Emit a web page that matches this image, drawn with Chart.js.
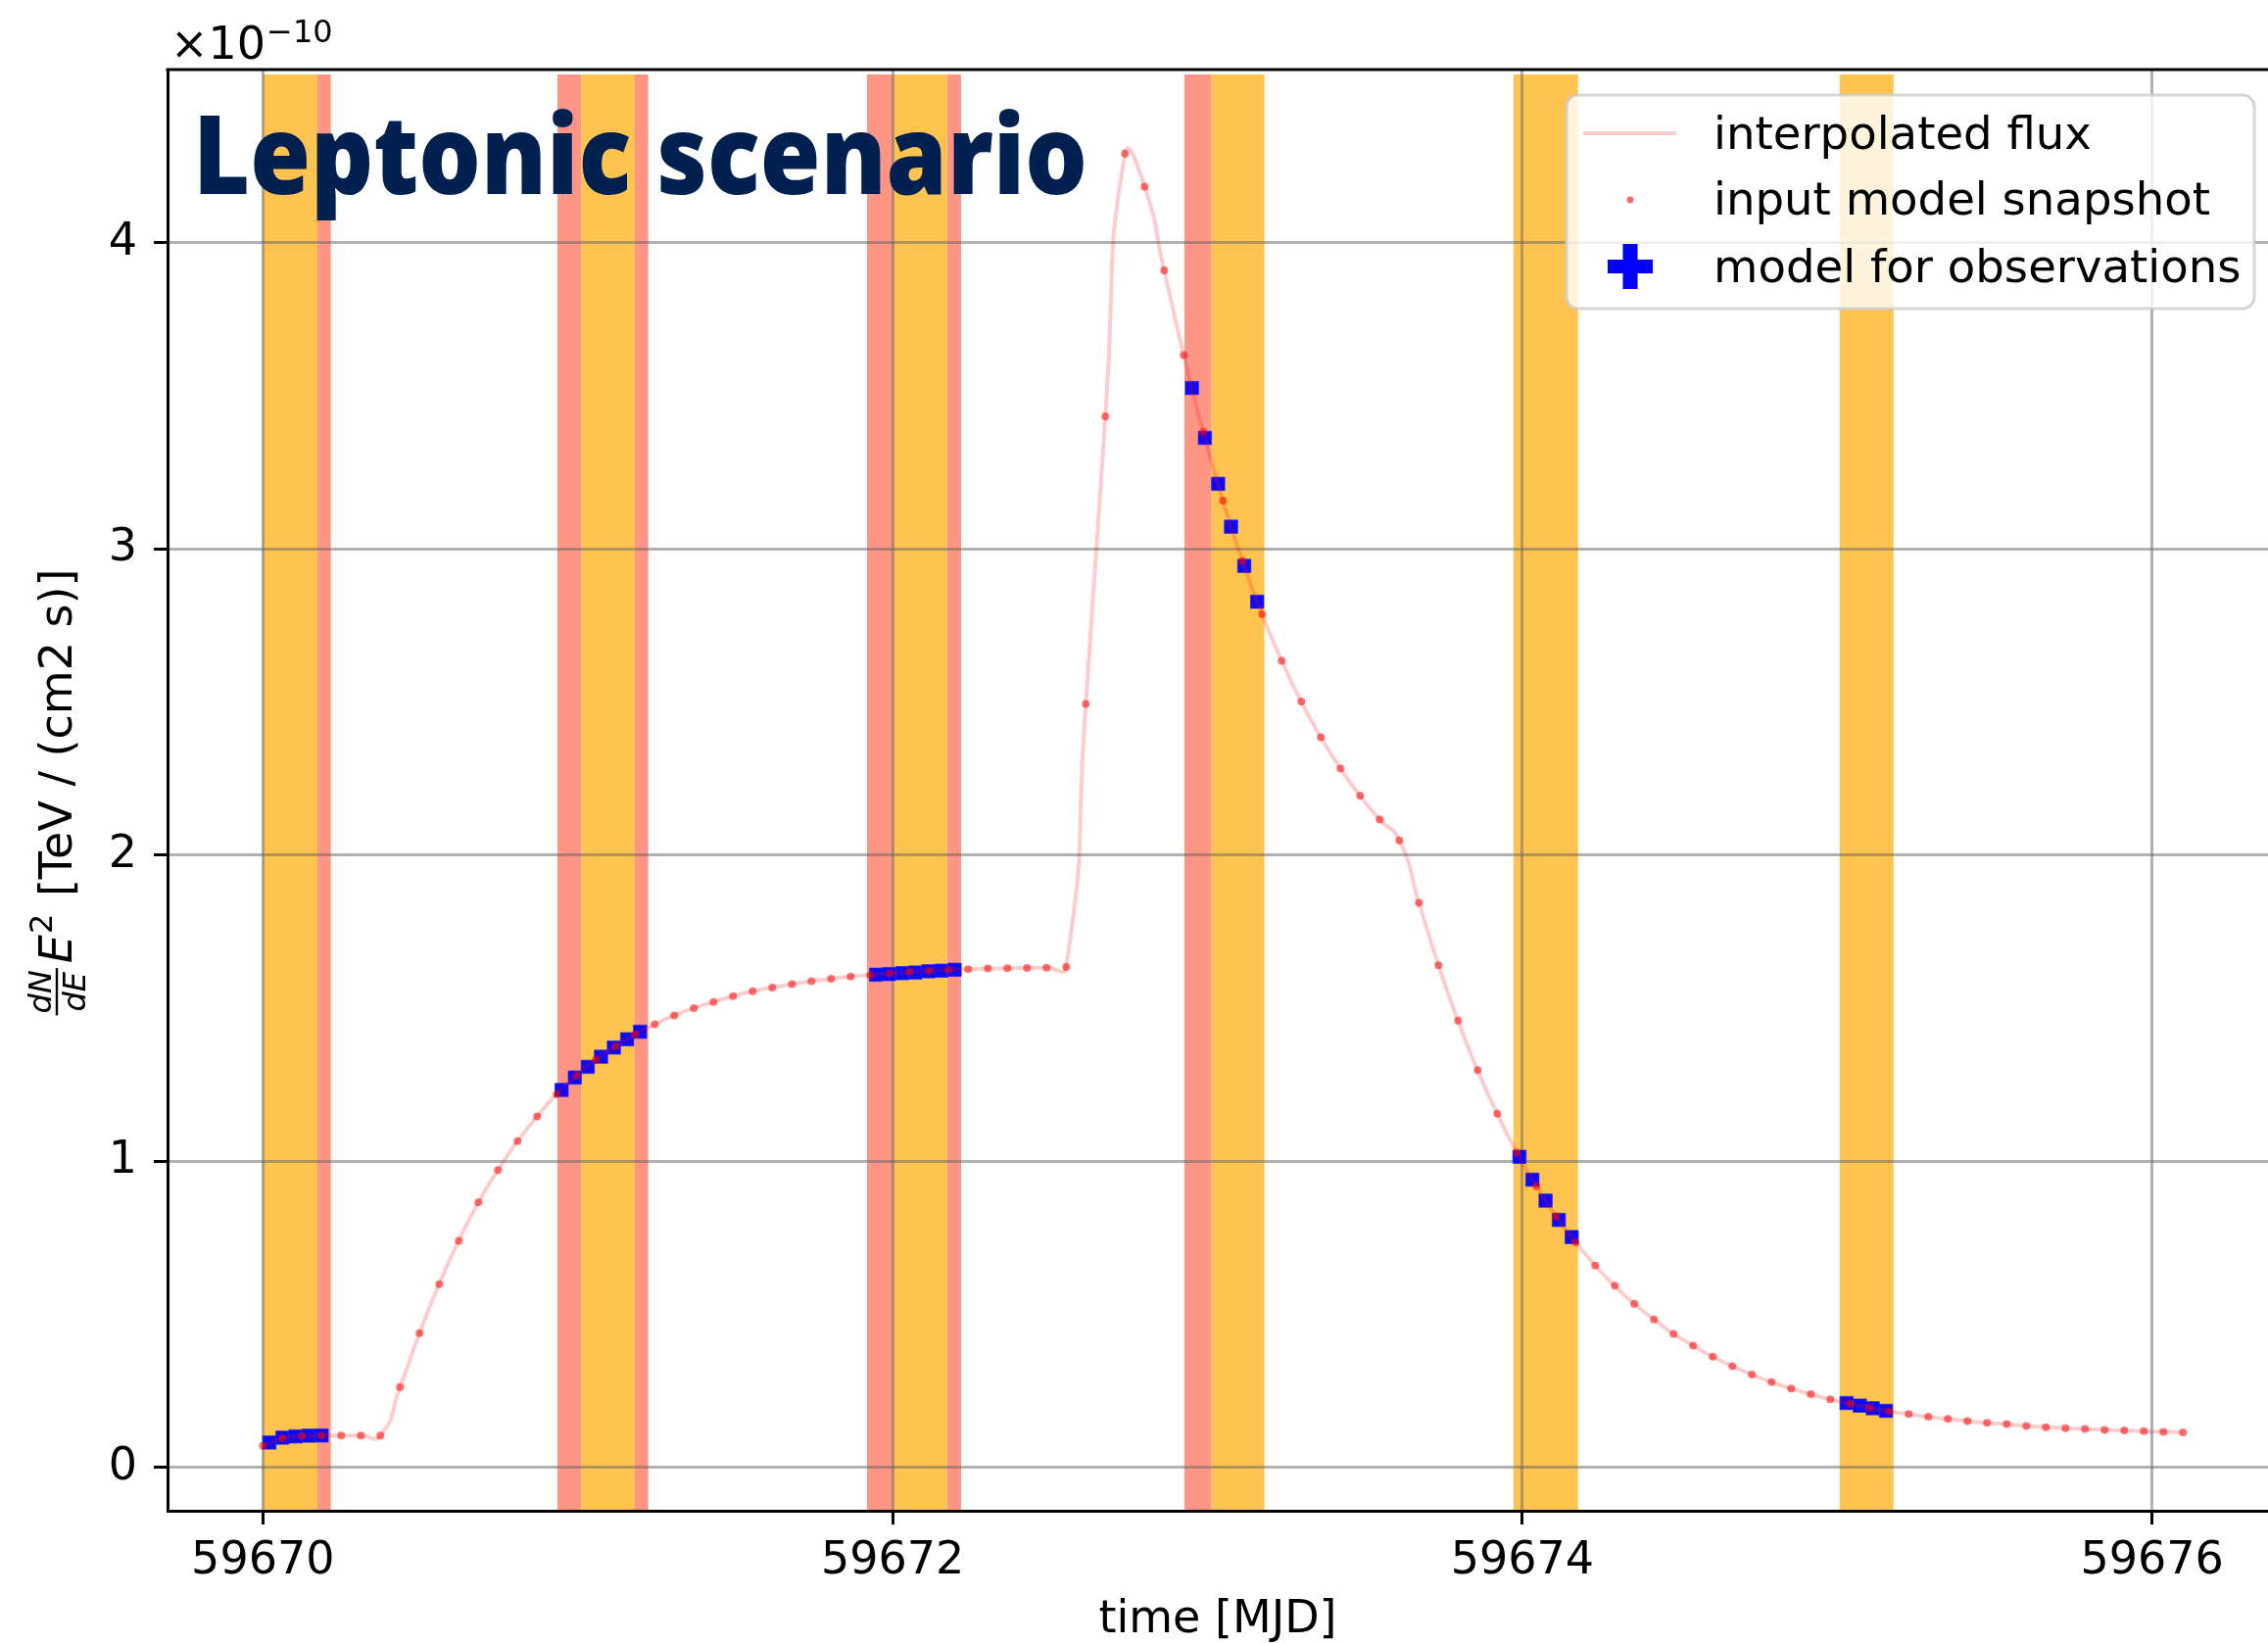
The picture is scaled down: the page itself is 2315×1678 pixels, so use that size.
<!DOCTYPE html>
<html><head><meta charset="utf-8">
<script src="https://cdn.jsdelivr.net/npm/chart.js@4.4.1/dist/chart.umd.min.js"></script>
<style>html,body{margin:0;padding:0;background:#fff;overflow:hidden}#wrap{width:2315px;height:1678px;position:relative}canvas{display:block}</style>
</head><body><div id="wrap"><canvas id="c" width="2315" height="1678"></canvas></div>
<script>
// ---------------- data (flux in units of 1e-10 TeV / (cm2 s)) ----------------
const snapshotMJD = [
59670.0000,59670.0622,59670.1245,59670.1867,59670.2489,59670.3112,59670.3734,59670.4356,59670.4978,59670.5601,
59670.6223,59670.6845,59670.7468,59670.8090,59670.8712,59670.9335,59670.9957,59671.0579,59671.1201,59671.1824,
59671.2446,59671.3068,59671.3691,59671.4313,59671.4935,59671.5558,59671.6180,59671.6802,59671.7424,59671.8047,
59671.8669,59671.9291,59671.9914,59672.0536,59672.1158,59672.1781,59672.2403,59672.3025,59672.3647,59672.4270,
59672.4892,59672.5514,59672.6137,59672.6759,59672.7381,59672.8004,59672.8626,59672.9248,59672.9870,59673.0493,
59673.1115,59673.1737,59673.2360,59673.2982,59673.3604,59673.4227,59673.4849,59673.5471,59673.6093,59673.6716,
59673.7338,59673.7960,59673.8583,59673.9205,59673.9827,59674.0450,59674.1072,59674.1694,59674.2316,59674.2939,
59674.3561,59674.4183,59674.4806,59674.5428,59674.6050,59674.6673,59674.7295,59674.7917,59674.8539,59674.9162,
59674.9784,59675.0406,59675.1029,59675.1651,59675.2273,59675.2896,59675.3518,59675.4140,59675.4762,59675.5385,
59675.6007,59675.6629,59675.7252,59675.7874,59675.8496,59675.9119,59675.9741,59676.0363,59676.0985];
const snapshotFlux = [
0.071,0.096,0.103,0.105,0.105,0.105,0.105,0.263,0.439,0.599,
0.741,0.866,0.972,1.066,1.147,1.220,1.280,1.333,1.376,1.415,
1.448,1.477,1.501,1.521,1.540,1.556,1.568,1.579,1.589,1.597,
1.604,1.609,1.614,1.619,1.623,1.626,1.628,1.630,1.631,1.632,
1.633,1.635,2.494,3.433,4.292,4.184,3.910,3.633,3.382,3.158,
2.961,2.787,2.635,2.502,2.385,2.283,2.194,2.117,2.049,1.845,
1.641,1.460,1.298,1.156,1.029,0.919,0.821,0.736,0.660,0.594,
0.535,0.484,0.437,0.398,0.362,0.331,0.304,0.279,0.258,0.240,
0.223,0.209,0.196,0.184,0.175,0.166,0.159,0.152,0.146,0.142,
0.136,0.132,0.129,0.126,0.1235,0.1215,0.119,0.117,0.115];
const obsMJD = [
59670.0208,59670.0623,59670.1040,59670.1456,59670.1867,
59670.9490,59670.9910,59671.0320,59671.0740,59671.1150,59671.1570,59671.1980,
59671.9480,59671.9890,59672.0310,59672.0720,59672.1140,59672.1550,59672.1970,
59672.9510,59672.9920,59673.0340,59673.0750,59673.1170,59673.1580,
59673.9910,59674.0320,59674.0740,59674.1160,59674.1570,
59675.0300,59675.0720,59675.1130,59675.1550];
const obsFlux = [
0.082,0.098,0.102,0.1045,0.105,
1.2335,1.274,1.309,1.342,1.372,1.399,1.4235,
1.610,1.612,1.615,1.617,1.621,1.623,1.626,
3.526,3.363,3.213,3.073,2.945,2.828,
1.015,0.9405,0.872,0.809,0.753,
0.211,0.2025,0.194,0.1855];
const orangeBands = [[59670.0000,59670.1733],[59671.0114,59671.1814],[59672.0018,59672.1730],
                     [59673.0130,59673.1810],[59673.9720,59674.1770],[59675.0080,59675.1790]];
const salmonBands = [[59670.1733,59670.2159],[59670.9356,59671.0114],[59671.1814,59671.2240],
                     [59671.9188,59672.0018],[59672.1730,59672.2175],[59672.9270,59673.0130]];
const xTicks = [59670, 59672, 59674, 59676];
const xTickLabels = ['59670', '59672', '59674', '59676'];
const yTicks = [0, 1, 2, 3, 4];
const yTickLabels = ['0', '1', '2', '3', '4'];
const seriesLabels = ['interpolated flux', 'input model snapshot', 'model for observations'];
const titleText = 'Leptonic scenario';
const xTitle = 'time [MJD]';
const yTitleUnit = ' [TeV / (cm2 s)]';

// ---------------- drawing ----------------
const FONT = '"DejaVu Sans"';
const pts = (xs, ys) => xs.map((x, i) => ({x: x, y: ys[i]}));

const bandsPlugin = {
  id: 'bands',
  beforeDraw(chart) {
    const {ctx, chartArea: a, scales: {x}} = chart;
    ctx.save();
    ctx.fillStyle = '#fff';
    ctx.fillRect(0, 0, chart.width, chart.height);
    ctx.beginPath(); ctx.rect(a.left, a.top, a.right - a.left, a.bottom - a.top); ctx.clip();
    const draw = (bands, color) => {
      ctx.fillStyle = color;
      bands.forEach(([s, e]) => {
        const x0 = x.getPixelForValue(s), x1 = x.getPixelForValue(e);
        ctx.fillRect(x0, a.top + 5, x1 - x0, a.bottom - a.top - 5);
      });
    };
    draw(salmonBands, 'rgb(255,149,133)');
    draw(orangeBands, 'rgb(254,196,79)');
    ctx.restore();
  }
};

const decorPlugin = {
  id: 'decor',
  afterDraw(chart) {
    const {ctx, chartArea: a} = chart;
    ctx.save();
    // top spine
    ctx.strokeStyle = '#000'; ctx.lineWidth = 3;
    ctx.beginPath(); ctx.moveTo(a.left - 1.5, a.top); ctx.lineTo(a.right, a.top); ctx.stroke();

    // offset text  x10^-10
    ctx.fillStyle = '#000'; ctx.textAlign = 'left'; ctx.textBaseline = 'alphabetic';
    ctx.font = '46px ' + FONT;
    ctx.fillText('×10', 174, 60);
    const w10 = ctx.measureText('×10').width;
    ctx.font = '32px ' + FONT;
    ctx.fillText('−10', 174 + w10 + 1, 43);

    // big title
    ctx.fillStyle = '#00204F';
    ctx.font = '800 112px "Open Sans"';
    ctx.fillText(titleText, 197, 198, 913);

    // y axis title (rotated, with fraction)
    ctx.save();
    ctx.translate(73, (a.top + a.bottom) / 2 + 3);
    ctx.rotate(-Math.PI / 2);
    ctx.fillStyle = '#000';
    const fIt = 'italic 46px ' + FONT, fItS = 'italic 32px ' + FONT, fS = '32px ' + FONT, fR = '46px ' + FONT;
    ctx.font = fItS;
    const wN = ctx.measureText('dN').width, wD = ctx.measureText('dE').width;
    const fw = Math.max(wN, wD) + 8;
    ctx.font = fIt; const wE = ctx.measureText('E').width;
    ctx.font = fS; const w2 = ctx.measureText('2').width;
    ctx.font = fR; const wT = ctx.measureText(yTitleUnit).width;
    const total = fw + 3 + wE + w2 + 4 + wT;
    let x0 = -total / 2;
    const bar = -15;
    ctx.textAlign = 'center';
    ctx.font = fItS;
    ctx.fillText('dN', x0 + fw / 2, bar - 6);
    ctx.fillText('dE', x0 + fw / 2, bar + 29);
    ctx.fillRect(x0 + 2, bar - 1.2, fw - 4, 2.4);
    ctx.textAlign = 'left';
    x0 += fw + 3;
    ctx.font = fIt; ctx.fillText('E', x0, 0); x0 += wE + 1;
    ctx.font = fS; ctx.fillText('2', x0, -20); x0 += w2 + 3;
    ctx.font = fR; ctx.fillText(yTitleUnit, x0, 0);
    ctx.restore();

    // legend
    const L = {x: 1599, y: 97, w: 702, h: 218};
    ctx.beginPath();
    ctx.roundRect(L.x, L.y, L.w, L.h, 12);
    ctx.fillStyle = 'rgba(255,255,255,0.8)'; ctx.fill();
    ctx.strokeStyle = 'rgba(204,204,204,0.8)'; ctx.lineWidth = 3; ctx.stroke();
    // handle 1: line
    ctx.strokeStyle = 'rgba(255,0,0,0.2)'; ctx.lineWidth = 4;
    ctx.beginPath(); ctx.moveTo(1616, 136); ctx.lineTo(1711, 136); ctx.stroke();
    // handle 2: dot
    ctx.fillStyle = 'rgba(255,0,0,0.6)';
    ctx.beginPath(); ctx.arc(1664, 204, 3.5, 0, Math.PI * 2); ctx.fill();
    // handle 3: filled plus
    ctx.fillStyle = '#0000ff';
    ctx.fillRect(1641, 265, 46, 14);
    ctx.fillRect(1656.5, 249, 15, 46);
    // texts
    ctx.fillStyle = '#000'; ctx.font = '46.6px ' + FONT; ctx.textAlign = 'left';
    ctx.fillText(seriesLabels[0], 1749, 152);
    ctx.fillText(seriesLabels[1], 1749, 219);
    ctx.fillText(seriesLabels[2], 1749, 288);
    ctx.restore();
  }
};

const gridCommon = {color: 'rgba(100,100,100,0.5)', lineWidth: 3, tickColor: '#000', tickWidth: 3, tickLength: 14};
const tickFont = {family: 'DejaVu Sans', size: 46};
const noPad = s => { s.paddingLeft = 0; s.paddingRight = 0; s.paddingTop = 0; s.paddingBottom = 0; };

new Chart(document.getElementById('c'), {
  type: 'scatter',
  data: {
    datasets: [
      {label: seriesLabels[1], data: pts(snapshotMJD, snapshotFlux), showLine: false, order: 1,
       pointRadius: 4, pointBackgroundColor: 'rgba(255,0,0,0.55)', pointBorderWidth: 0},
      {label: seriesLabels[0], data: pts(snapshotMJD, snapshotFlux), showLine: true, order: 2,
       borderColor: 'rgba(255,0,0,0.2)', borderWidth: 4, pointRadius: 0, tension: 0.6, fill: false},
      {label: seriesLabels[2], data: pts(obsMJD, obsFlux), showLine: false, order: 3,
       pointStyle: 'rect', pointRadius: 9.6, pointBackgroundColor: 'rgba(0,0,255,0.95)',
       pointBorderColor: 'rgba(40,40,230,0.7)', pointBorderWidth: 1}
    ]
  },
  options: {
    responsive: false, animation: false, devicePixelRatio: 1, events: [],
    layout: {autoPadding: false, padding: {top: 71, left: 0, right: 0, bottom: 0}},
    plugins: {legend: {display: false}, tooltip: {enabled: false}},
    scales: {
      x: {
        type: 'linear', min: 59669.6973, max: 59676.3684,
        afterBuildTicks: s => { s.ticks = xTicks.map(v => ({value: v})); },
        afterFit: s => { s.height = 136; noPad(s); },
        ticks: {callback: (v, i) => xTickLabels[i], color: '#000', font: tickFont, padding: 10, maxRotation: 0, autoSkip: false},
        grid: gridCommon,
        border: {color: '#000', width: 3},
        title: {display: true, text: xTitle, color: '#000', font: {family: 'DejaVu Sans', size: 46, lineHeight: 1}, padding: {top: 0, bottom: 1}}
      },
      y: {
        type: 'linear', min: -0.1408, max: 4.566,
        afterBuildTicks: s => { s.ticks = yTicks.map(v => ({value: v})); },
        afterFit: s => { s.width = 171; noPad(s); },
        ticks: {callback: (v, i) => yTickLabels[i], color: '#000', font: tickFont, padding: 17, autoSkip: false},
        grid: gridCommon,
        border: {color: '#000', width: 3}
      }
    }
  },
  plugins: [bandsPlugin, decorPlugin]
});
</script>
</body></html>
